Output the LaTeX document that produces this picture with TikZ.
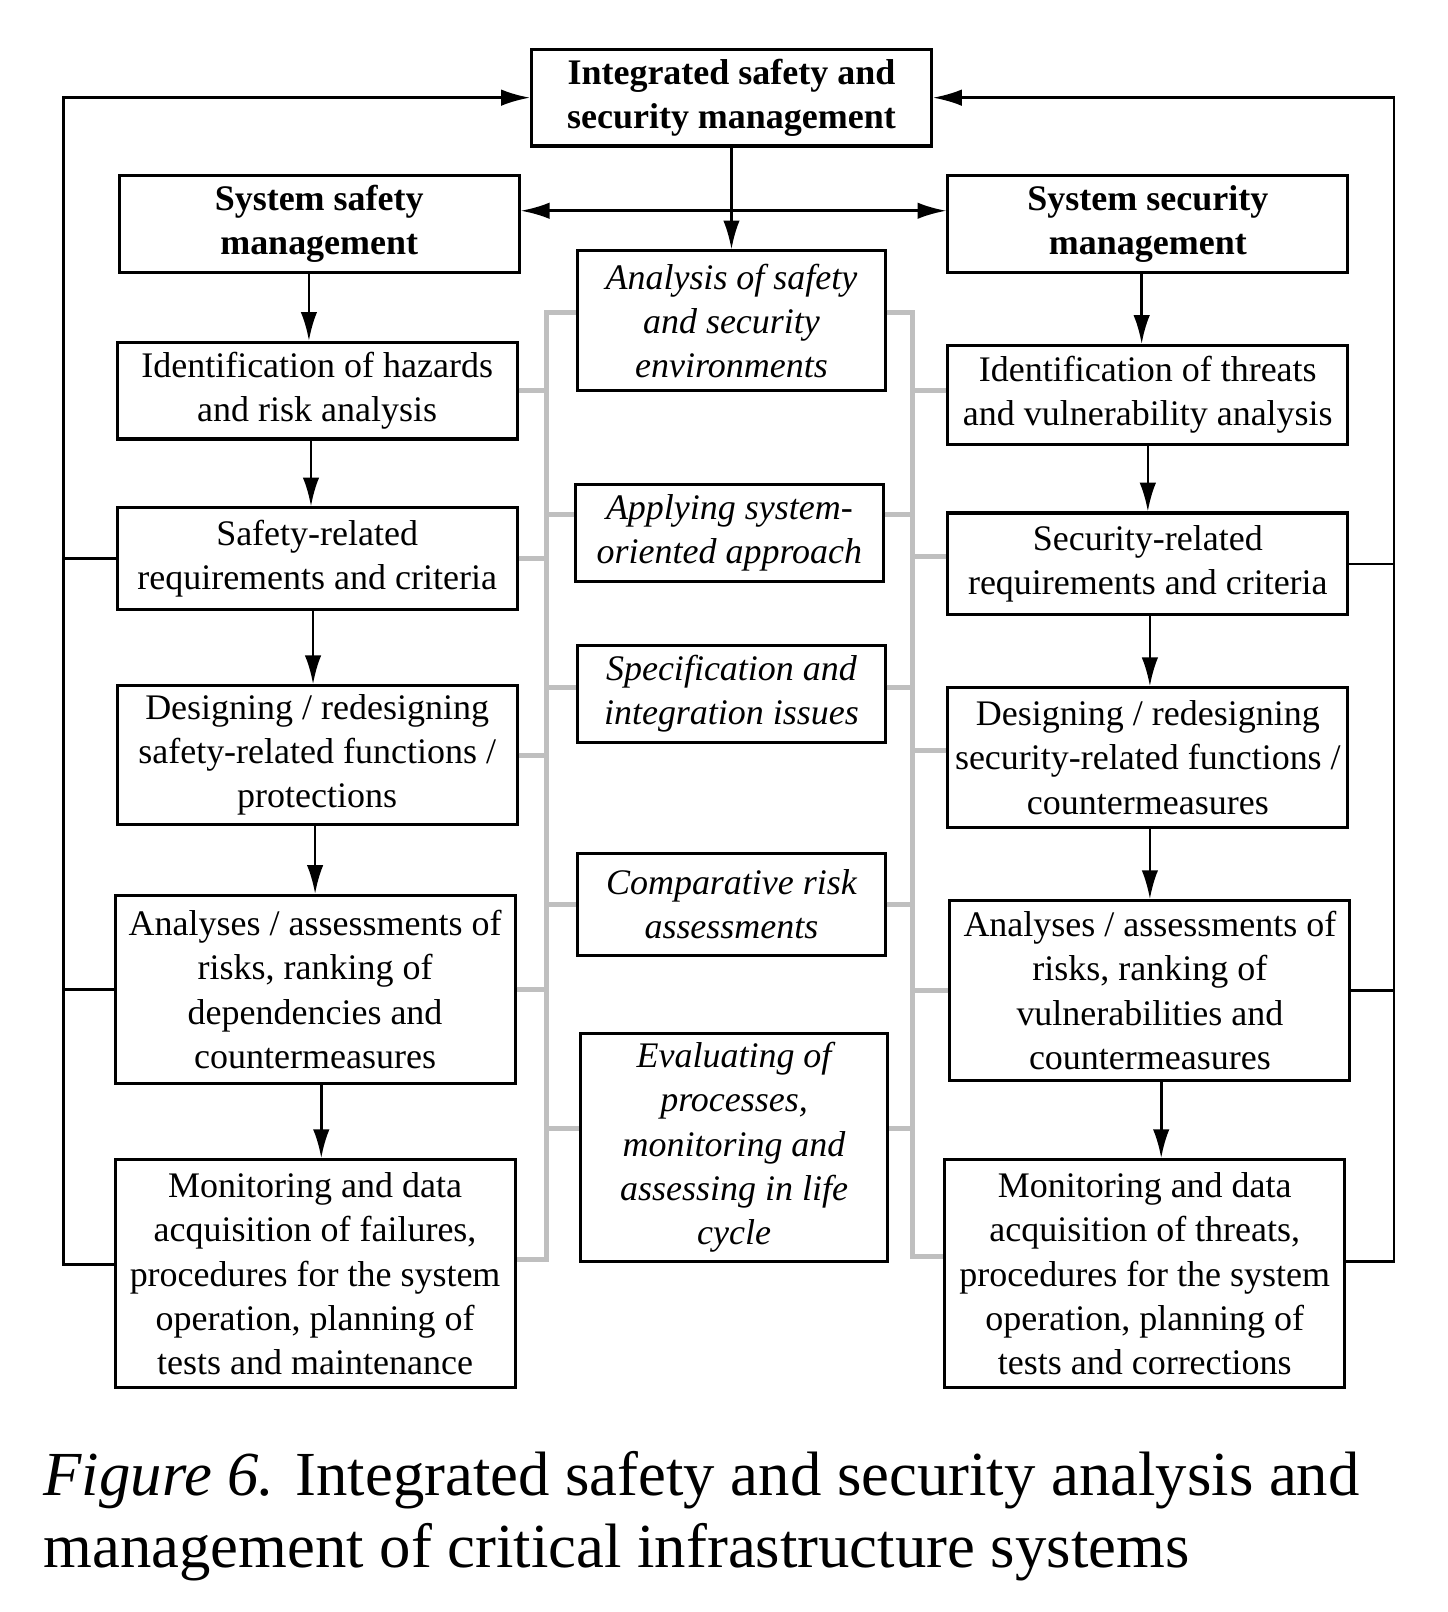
\documentclass[tikz,border=0pt]{standalone}
\usepackage{fontspec}
\setmainfont{Liberation Serif}
\usetikzlibrary{arrows.meta}
\begin{document}
\begin{tikzpicture}[x=0.5pt,y=-0.5pt,line join=miter,
  box/.style={draw,line width=1.5pt,align=center,inner sep=1pt,font=\fontsize{17.5}{21.5}\selectfont},
  wide/.style={box,minimum width=194.5pt},
  hd/.style={wide,font=\fontsize{17.5}{21.5}\selectfont\bfseries},
  mid/.style={box,minimum width=149.5pt,font=\fontsize{17.5}{21.5}\selectfont\itshape},
  ln/.style={line width=1.3pt},
  ar/.style={ln,-{Latex[length=14pt,width=8pt]}},
  dar/.style={ln,{Latex[length=14pt,width=8pt]}-{Latex[length=14pt,width=8pt]}},
  bus/.style={line width=2.4pt,draw=black!25},
  captxt/.style={inner sep=0pt,font=\fontsize{30.5}{35}\selectfont}]
  \useasboundingbox (0,0) rectangle (1408,1568);
  \node[hd,minimum height=47pt] (top) at (711.5,95) {Integrated safety and\\security management};
  \node[hd,minimum height=47pt] (sysL) at (310.5,218) {System safety\\management};
  \node[hd,minimum height=47pt] (sysR) at (1116.5,218) {System security\\management};
  \node[wide,minimum height=47pt] (idL) at (308.5,380) {Identification of hazards\\and risk analysis};
  \node[wide,minimum height=49.5pt] (reqL) at (308.5,543.5) {Safety-related\\requirements and criteria};
  \node[wide,minimum height=67.5pt] (desL) at (308.5,734.5) {Designing / redesigning\\safety-related functions /\\protections};
  \node[wide,minimum height=91.5pt] (anL) at (306.5,962.5) {Analyses / assessments of\\risks, ranking of\\dependencies and\\countermeasures};
  \node[wide,minimum height=111pt] (monL) at (306.5,1239) {Monitoring and data\\acquisition of failures,\\procedures for the system\\operation, planning of\\tests and maintenance};
  \node[wide,minimum height=48pt] (idR) at (1116.5,384) {Identification of threats\\and vulnerability analysis};
  \node[wide,minimum height=49.5pt] (reqR) at (1116.5,548.5) {Security-related\\requirements and criteria};
  \node[wide,minimum height=68pt] (desR) at (1116.5,737) {Designing / redesigning\\security-related functions /\\countermeasures};
  \node[wide,minimum height=87.5pt] (anR) at (1118.5,963.5) {Analyses / assessments of\\risks, ranking of\\vulnerabilities and\\countermeasures};
  \node[wide,minimum height=111pt] (monR) at (1113.5,1239) {Monitoring and data\\acquisition of threats,\\procedures for the system\\operation, planning of\\tests and corrections};
  \node[mid,minimum height=68pt] (anaC) at (711.5,312) {Analysis of safety\\and security\\environments};
  \node[mid,minimum height=47.5pt] (appC) at (709.5,518.5) {Applying system-\\oriented approach};
  \node[mid,minimum height=47pt] (specC) at (711.5,675) {Specification and\\integration issues};
  \node[mid,minimum height=49.5pt] (compC) at (711.5,879.5) {Comparative risk\\assessments};
  \node[mid,minimum height=111pt] (evalC) at (714,1116) {Evaluating of\\processes,\\monitoring and\\assessing in life\\cycle};
  \node[captxt,anchor=base west] (cap1) at (42,1455) {\textit{Figure 6.} Integrated safety and security analysis and};
  \node[captxt,anchor=base west] (cap2) at (42,1525) {management of critical infrastructure systems};
  \coordinate (bL) at (532,0);
  \coordinate (bR) at (888,0);
  \coordinate (oL) at (62,95);
  \coordinate (oR) at (1356,95);
  \draw[bus] ([yshift=4pt]anaC.west) -| ([yshift=7pt]monL.east -| bL) -- ([yshift=7pt]monL.east);
  \draw[bus] (idL.east) -- (idL.east -| bL);
  \draw[bus] (reqL.east) -- (reqL.east -| bL);
  \draw[bus] (desL.east) -- (desL.east -| bL);
  \draw[bus] (anL.east) -- (anL.east -| bL);
  \draw[bus] ([yshift=9pt]appC.west) -- ([yshift=9pt]appC.west -| bL);
  \draw[bus] ([yshift=3pt]specC.west) -- ([yshift=3pt]specC.west -| bL);
  \draw[bus] (compC.west) -- (compC.west -| bL);
  \draw[bus] ([yshift=9pt]evalC.west) -- ([yshift=9pt]evalC.west -| bL);
  \draw[bus] ([yshift=4pt]anaC.east) -| ([yshift=8.5pt]monR.west -| bR) -- ([yshift=8.5pt]monR.west);
  \draw[bus] ([yshift=2pt]idR.west) -- ([yshift=2pt]idR.west -| bR);
  \draw[bus] ([yshift=3.5pt]reqR.west) -- ([yshift=3.5pt]reqR.west -| bR);
  \draw[bus] ([yshift=3.5pt]desR.west) -- ([yshift=3.5pt]desR.west -| bR);
  \draw[bus] (anR.west) -- (anR.west -| bR);
  \draw[bus] ([yshift=9pt]appC.east) -- ([yshift=9pt]appC.east -| bR);
  \draw[bus] ([yshift=3pt]specC.east) -- ([yshift=3pt]specC.east -| bR);
  \draw[bus] (compC.east) -- (compC.east -| bR);
  \draw[bus] ([yshift=9pt]evalC.east) -- ([yshift=9pt]evalC.east -| bR);
  \draw[ar] (top.south) -- (anaC.north);
  \draw[dar] ([yshift=6.5pt]sysL.east) -- ([yshift=6.5pt]sysR.west);
  \draw[ar] ([xshift=-4pt]idL.north |- sysL.south) -- ([xshift=-4pt]idL.north);
  \draw[ar] ([xshift=-3pt]reqL.north |- idL.south) -- ([xshift=-3pt]reqL.north);
  \draw[ar] ([xshift=-2pt]desL.north |- reqL.south) -- ([xshift=-2pt]desL.north);
  \draw[ar] (anL.north |- desL.south) -- (anL.north);
  \draw[ar] ([xshift=3pt]monL.north |- anL.south) -- ([xshift=3pt]monL.north);
  \draw[ar] ([xshift=-3pt]idR.north |- sysR.south) -- ([xshift=-3pt]idR.north);
  \draw[ar] (reqR.north |- idR.south) -- (reqR.north);
  \draw[ar] ([xshift=1pt]desR.north |- reqR.south) -- ([xshift=1pt]desR.north);
  \draw[ar] (anR.north |- desR.south) -- (anR.north);
  \draw[ar] ([xshift=8pt]monR.north |- anR.south) -- ([xshift=8pt]monR.north);
  \draw[ar] ([yshift=4.5pt]monL.west) -| (oL) -- (top.west);
  \draw[ln] (reqL.west) -- (reqL.west -| oL);
  \draw[ln] (anL.west) -- (anL.west -| oL);
  \draw[ar] ([yshift=6pt]monR.east) -| (oR) -- (top.east);
  \draw[ln] (reqR.east) -- (reqR.east -| oR);
  \draw[ln] (anR.east) -- (anR.east -| oR);
\end{tikzpicture}
\end{document}
